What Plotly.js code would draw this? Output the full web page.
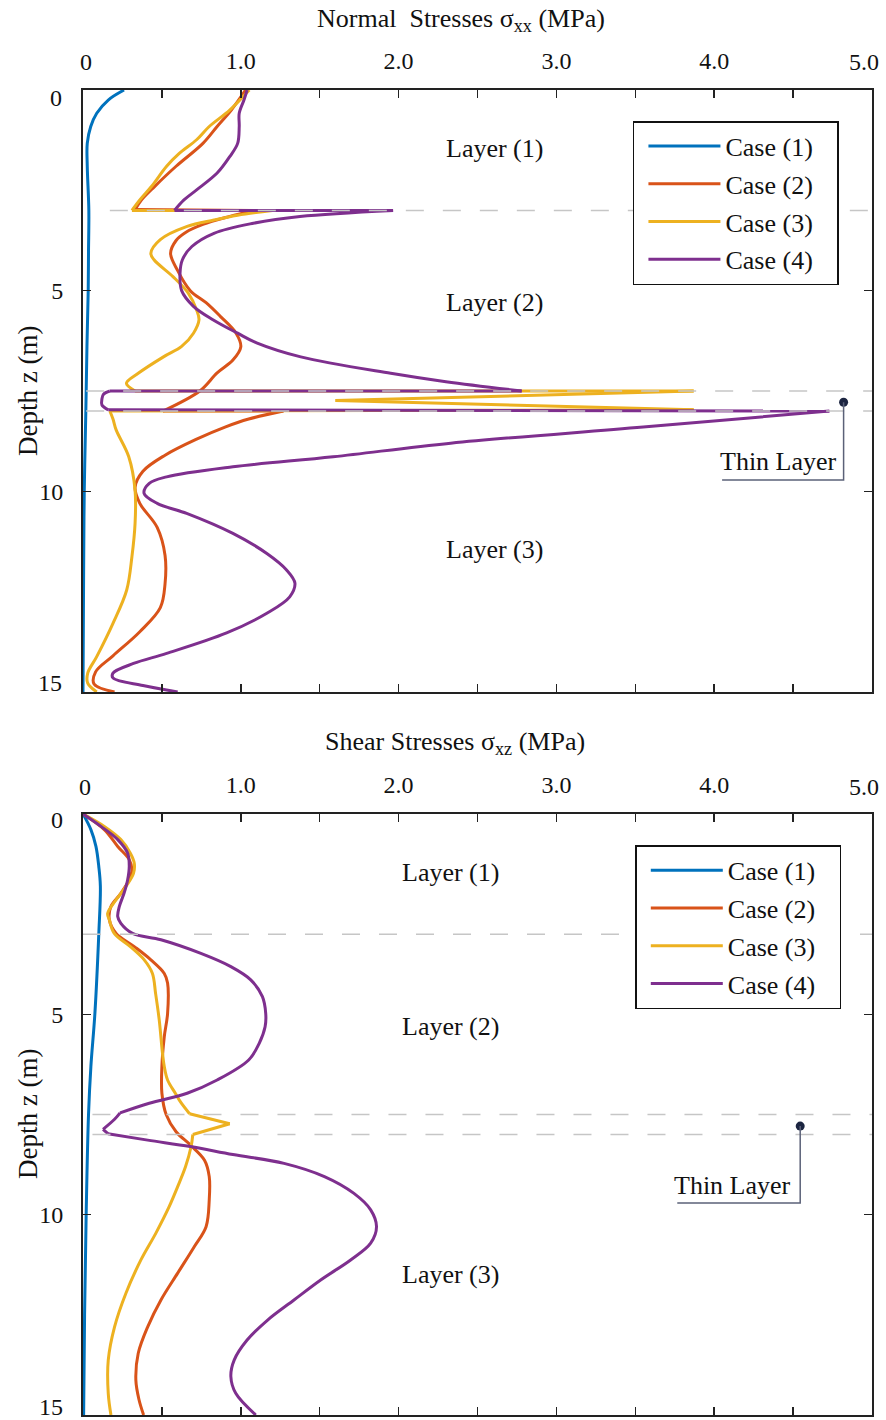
<!DOCTYPE html>
<html>
<head>
<meta charset="utf-8">
<script src="https://cdn.plot.ly/plotly-3.0.1.min.js"></script>
<style>
  html, body { margin: 0; padding: 0; background: #fff; }
  #chart { width: 886px; height: 1420px; }
</style>
</head>
<body>
<div id="chart"></div>
<script>
// ---- Normal stresses sigma_xx (MPa) versus depth z (m) ----
const caseNames = ['Case (1)', 'Case (2)', 'Case (3)', 'Case (4)'];
const caseColors = ['#0072BD', '#D95319', '#EDB120', '#7E2F8E'];

const zNormal1 = [0, 0.25, 0.58, 0.91, 1.33, 1.9, 3, 4, 5, 6.4, 8, 10, 12, 15];
const sxx1 = [0.26, 0.16, 0.087, 0.049, 0.027, 0.027, 0.037, 0.035, 0.033, 0.025, 0.018, 0.008, 0.004, 0];

const zNormal2 = [0, 0.5, 0.91, 1.33, 1.9, 2.4, 2.74, 2.98, 3.0, 3.15, 3.35, 3.55, 3.75, 4.07, 4.5, 5.0, 5.3, 5.64, 6.06, 6.4, 6.73, 7.05, 7.5, 8.0,
  8.0, 8.2, 8.4, 8.7, 9.1, 9.5, 9.9, 10.3, 10.9, 11.6, 12.3, 12.9, 13.5, 14.1, 14.5, 14.8, 15];
const sxx2 = [1.03, 0.94, 0.85, 0.76, 0.59, 0.455, 0.37, 0.33, 1.08, 0.93, 0.76, 0.65, 0.59, 0.555, 0.6, 0.68, 0.78, 0.87, 0.97, 1.0, 0.95, 0.85, 0.74, 0.507,
  1.27, 1.05, 0.9, 0.72, 0.52, 0.38, 0.33, 0.36, 0.47, 0.52, 0.52, 0.49, 0.36, 0.19, 0.08, 0.07, 0.2];

const zNormal3 = [0, 0.5, 0.91, 1.24, 1.58, 1.9, 2.4, 2.74, 3.0, 3.0, 3.12, 3.24, 3.4, 3.73, 4.07, 4.23, 4.65, 5.06, 5.48, 5.73, 6.06, 6.39, 6.65, 7.06, 7.31, 7.5,
  7.5, 7.74, 7.97, 8.0, 8.2, 8.47, 9.14, 9.97, 10.8, 11.63, 12.46, 13.29, 14.12, 14.53, 14.78, 15];
const sxx3 = [1.054, 0.93, 0.80, 0.72, 0.61, 0.53, 0.435, 0.36, 0.31, 1.2, 0.98, 0.83, 0.66, 0.49, 0.43, 0.45, 0.57, 0.667, 0.72, 0.735, 0.70, 0.625, 0.51, 0.35, 0.275, 0.33,
  3.87, 1.6, 3.87, 0.17, 0.19, 0.21, 0.29, 0.33, 0.33, 0.31, 0.277, 0.19, 0.087, 0.03, 0.03, 0.087];

const zNormal4 = [0, 0.25, 0.58, 0.91, 1.33, 1.66, 2.07, 2.49, 2.74, 3.0, 3.0, 3.15, 3.32, 3.57, 3.9, 4.23, 4.56, 5.0, 5.39, 5.73, 6.06, 6.3, 6.65, 7.06, 7.27, 7.5,
  7.5, 7.58, 7.7, 7.85, 7.97, 8.0, 8.4, 8.8, 9.14, 9.39, 9.64, 9.8, 10.05, 10.3, 10.55, 11.05, 11.55, 11.96, 12.29, 12.63, 13.04, 13.53, 14.04, 14.29, 14.53, 14.65, 14.84, 15];
const sxx4 = [1.04, 1.02, 0.99, 0.99, 0.98, 0.93, 0.85, 0.72, 0.64, 0.58, 1.965, 1.375, 1.08, 0.83, 0.69, 0.63, 0.615, 0.625, 0.70, 0.826, 0.98, 1.1, 1.38, 1.95, 2.3, 2.78,
  0.17, 0.13, 0.12, 0.12, 0.16, 4.73, 3.55, 2.33, 1.585, 0.95, 0.53, 0.42, 0.387, 0.47, 0.657, 0.95, 1.165, 1.29, 1.343, 1.31, 1.165, 0.91, 0.53, 0.32, 0.19, 0.19, 0.38, 0.6];

// indices where a profile jumps across a layer interface (kept as sharp corners)
const sxxCorners = [[], [7, 8, 23, 24], [8, 9, 25, 26, 27, 28, 29], [9, 10, 25, 26, 30, 31]];

// ---- Shear stresses sigma_xz (MPa) versus depth z (m) ----
const zShear1 = [0, 0.39, 0.81, 1.31, 1.8, 3, 5, 6.3, 7.5, 10, 12.5, 15];
const sxz1 = [0, 0.05, 0.082, 0.10, 0.11, 0.10, 0.075, 0.05, 0.035, 0.02, 0.01, 0.004];

const zShear2 = [0, 0.39, 0.81, 1.14, 1.39, 1.64, 1.98, 2.31, 2.64, 2.98, 3.31, 3.64, 3.98, 4.22, 4.98, 5.56, 6.3, 6.97, 7.5, 7.93, 8.26, 8.64, 9.05, 9.63,
  10.3, 10.8, 11.46, 12.13, 12.8, 13.46, 14.13, 14.62, 15];
const sxz2 = [0, 0.135, 0.22, 0.293, 0.31, 0.293, 0.24, 0.177, 0.167, 0.21, 0.325, 0.43, 0.515, 0.536, 0.536, 0.515, 0.5, 0.5, 0.527, 0.59, 0.68, 0.77, 0.80, 0.80,
  0.78, 0.705, 0.6, 0.494, 0.41, 0.35, 0.335, 0.355, 0.384];

const zShear3 = [0, 0.31, 0.64, 0.98, 1.23, 1.48, 1.81, 2.14, 2.48, 2.64, 2.98, 3.31, 3.64, 3.98, 4.48, 5.14, 5.98, 6.3, 6.64, 6.97, 7.2, 7.48, 7.73, 8.0,
  8.3, 8.8, 9.3, 9.8, 10.46, 11.13, 11.96, 12.8, 13.63, 14.46, 15];
const sxz3 = [0, 0.135, 0.24, 0.30, 0.325, 0.32, 0.272, 0.21, 0.156, 0.167, 0.198, 0.30, 0.388, 0.44, 0.46, 0.483, 0.504, 0.515, 0.536, 0.585, 0.62, 0.675, 0.93, 0.696,
  0.685, 0.65, 0.6, 0.546, 0.462, 0.367, 0.272, 0.2, 0.16, 0.16, 0.177];

const zShear4 = [0, 0.31, 0.64, 0.98, 1.31, 1.64, 1.98, 2.31, 2.56, 2.73, 2.98, 3.14, 3.48, 3.81, 4.14, 4.56, 4.98, 5.31, 5.73, 6.14, 6.64, 6.97, 7.22, 7.46,
  7.62, 7.87, 7.98, 8.14, 8.3, 8.5, 8.72, 9.05, 9.47, 9.88, 10.3, 10.71, 11.13, 11.63, 12.13, 12.63, 13.13, 13.63, 14.04, 14.46, 15];
const sxz4 = [0, 0.114, 0.22, 0.283, 0.293, 0.283, 0.26, 0.23, 0.22, 0.24, 0.314, 0.494, 0.747, 0.937, 1.063, 1.137, 1.158, 1.154, 1.116, 1.05, 0.85, 0.66, 0.42, 0.235,
  0.2, 0.127, 0.158, 0.41, 0.68, 0.95, 1.274, 1.53, 1.717, 1.823, 1.86, 1.823, 1.696, 1.506, 1.337, 1.17, 1.04, 0.958, 0.937, 0.968, 1.095];

const sxzCorners = [[], [], [21, 22, 23], [23, 25, 26]];

// Layer boundaries (m) and annotation text
const boundaryDepths = [3, 7.5, 8];
const layerLabels = ['Layer (1)', 'Layer (2)', 'Layer (3)'];
const layerLabelDepths = [1.45, 5.3, 11.45];
const thinLayerMarkNormal = {x: [4.82], z: [7.78]};
const thinLayerMarkShear = {x: [4.545], z: [7.79]};

// interior tick labels come from the axes; the end labels sit just inside the frame
const stressTicks = [1, 2, 3, 4];
const stressTickText = ['1.0', '2.0', '3.0', '4.0'];
const stressEndText = ['0', '5.0'];
const stressMinorTicks = [0.5, 1.5, 2.5, 3.5, 4.5];
const depthTicks = [5, 10];
const depthEndText = ['0', '15'];

const FONT = 'Liberation Serif, Times New Roman, serif';
const INK = '#111';
const LEGEND_PAD = '\u00a0\u00a0\u00a0';

const normalZ = [zNormal1, zNormal2, zNormal3, zNormal4];
const normalV = [sxx1, sxx2, sxx3, sxx4];
const shearZ = [zShear1, zShear2, zShear3, zShear4];
const shearV = [sxz1, sxz2, sxz3, sxz4];

// Split a profile at its corner indices so each smooth run gets its own spline
function runs(n, corners) {
  const cuts = [0].concat(corners.filter(c => c > 0 && c < n - 1), [n - 1]);
  const out = [];
  for (let k = 0; k < cuts.length - 1; k++) out.push([cuts[k], cuts[k + 1]]);
  return out;
}

const traces = [];
function addProfile(values, depths, corners, i, xa, ya, legendId, prefix) {
  runs(values.length, corners).forEach(([a, b], k) => {
    traces.push({
      type: 'scatter', mode: 'lines', name: caseNames[i] + LEGEND_PAD,
      x: values.slice(a, b + 1), y: depths.slice(a, b + 1), xaxis: xa, yaxis: ya,
      line: {color: caseColors[i], width: 3, shape: 'spline', smoothing: 1},
      legend: legendId, legendgroup: prefix + i, showlegend: k === 0
    });
  });
}
for (let i = 0; i < 4; i++) addProfile(normalV[i], normalZ[i], sxxCorners[i], i, 'x', 'y', 'legend', 'n');
for (let i = 0; i < 4; i++) addProfile(shearV[i], shearZ[i], sxzCorners[i], i, 'x2', 'y2', 'legend2', 's');

// thin-layer marker dots
traces.push({type: 'scatter', mode: 'markers', x: thinLayerMarkNormal.x, y: thinLayerMarkNormal.z,
  xaxis: 'x', yaxis: 'y', marker: {color: '#1c2541', size: 9}, showlegend: false});
traces.push({type: 'scatter', mode: 'markers', x: thinLayerMarkShear.x, y: thinLayerMarkShear.z,
  xaxis: 'x2', yaxis: 'y2', marker: {color: '#1c2541', size: 9}, showlegend: false});

function stressAxis(anchor) {
  return {
    anchor: anchor, side: 'top', range: [0, 5], domain: [0, 1],
    tickvals: stressTicks, ticktext: stressTickText,
    ticks: 'inside', ticklen: 8, tickwidth: 1.5, tickcolor: '#222',
    minor: {tickvals: stressMinorTicks, ticks: 'inside', ticklen: 8, tickwidth: 1.5, tickcolor: '#222', showgrid: false},
    showline: true, linecolor: '#222', linewidth: 2, mirror: 'ticks',
    showgrid: false, zeroline: false, ticklabelstandoff: 9,
    tickfont: {family: FONT, size: 24, color: INK}
  };
}
function depthAxis(anchor, domain) {
  return {
    anchor: anchor, domain: domain, range: [15, 0],
    tickvals: depthTicks, ticks: 'inside', ticklen: 8, tickwidth: 1.5, tickcolor: '#222',
    showline: true, linecolor: '#222', linewidth: 2, mirror: 'ticks',
    showgrid: false, zeroline: false, ticklabelstandoff: 13,
    tickfont: {family: FONT, size: 24, color: INK}
  };
}

const shapes = [];
boundaryDepths.forEach((d, k) => {
  shapes.push({type: 'line', xref: 'x', yref: 'y', x0: k === 0 ? 0.17 : 0.02, x1: 5, y0: d, y1: d,
    line: {color: '#c6c6c6', width: 1.5, dash: '18px,19px'}, layer: 'above'});
  shapes.push({type: 'line', xref: 'x2', yref: 'y2', x0: k === 0 ? 0 : 0.06, x1: 5, y0: d, y1: d,
    line: {color: '#c6c6c6', width: 1.5, dash: '18px,19px'}, layer: 'above'});
});
// leader lines for the thin layer callouts
shapes.push({type: 'path', xref: 'x', yref: 'y', path: 'M4.82,7.78 L4.82,9.72 L4.05,9.72',
  line: {color: '#5b6178', width: 1.5}, layer: 'above'});
shapes.push({type: 'path', xref: 'x2', yref: 'y2', path: 'M4.545,7.79 L4.545,9.71 L3.766,9.71',
  line: {color: '#5b6178', width: 1.5}, layer: 'above'});

const annotations = [];
function label(xref, yref, x, y, text, size, extra) {
  annotations.push(Object.assign({xref: xref, yref: yref, x: x, y: y, text: text, showarrow: false,
    xanchor: 'center', yanchor: 'middle', font: {family: FONT, size: size, color: INK}}, extra || {}));
}
layerLabels.forEach((t, k) => {
  label('x', 'y', 2.61, layerLabelDepths[k], t, 26);
  label('x2', 'y2', 2.33, layerLabelDepths[k] + (k === 2 ? 0.05 : 0), t, 26);
});
label('x', 'y', 4.79, 9.25, 'Thin Layer', 26, {xanchor: 'right'});
label('x2', 'y2', 4.5, 9.26, 'Thin Layer', 26, {xanchor: 'right'});
// axis titles
label('paper', 'paper', 0.479, 1.0528, 'Normal  Stresses σ<sub>xx</sub> (MPa)', 26);
label('paper', 'paper', 0.4715, 0.5072, 'Shear Stresses σ<sub>xz</sub> (MPa)', 26);
label('paper', 'paper', -0.0697, 0.7728, 'Depth z (m)', 27, {textangle: -90});
label('paper', 'paper', -0.0697, 0.2272, 'Depth z (m)', 27, {textangle: -90});
// end tick labels of both axes
label('paper', 'paper', 0.004, 1.0211, stressEndText[0], 24);
label('paper', 'paper', 0.9895, 1.0211, stressEndText[1], 24);
label('paper', 'paper', 0.002, 0.474, stressEndText[0], 24);
label('paper', 'paper', 0.9895, 0.474, stressEndText[1], 24);
label('paper', 'paper', -0.0245, 0.9936, depthEndText[0], 24, {xanchor: 'right'});
label('paper', 'paper', -0.0245, 0.5525, depthEndText[1], 24, {xanchor: 'right'});
label('paper', 'paper', -0.0225, 0.4487, depthEndText[0], 24, {xanchor: 'right'});
label('paper', 'paper', -0.0225, 0.0058, depthEndText[1], 24, {xanchor: 'right'});

const legendStyle = {
  xref: 'paper', yref: 'paper', xanchor: 'left', yanchor: 'top',
  bgcolor: '#ffffff', bordercolor: INK, borderwidth: 1.5,
  font: {family: FONT, size: 26, color: INK}, tracegroupgap: 1, itemwidth: 72, indentation: 9
};

const layout = {
  width: 886, height: 1420,
  margin: {l: 83, r: 14, t: 90, b: 5},
  paper_bgcolor: '#fff', plot_bgcolor: '#fff',
  showlegend: true,
  xaxis: stressAxis('y'),
  yaxis: depthAxis('x', [0.5457, 1]),
  xaxis2: stressAxis('y2'),
  yaxis2: depthAxis('x2', [0, 0.4536]),
  legend: Object.assign({x: 0.697, y: 0.9766}, legendStyle),
  legend2: Object.assign({x: 0.70, y: 0.430}, legendStyle),
  shapes: shapes,
  annotations: annotations
};

Plotly.newPlot('chart', traces, layout, {staticPlot: true, displayModeBar: false});
</script>
</body>
</html>
